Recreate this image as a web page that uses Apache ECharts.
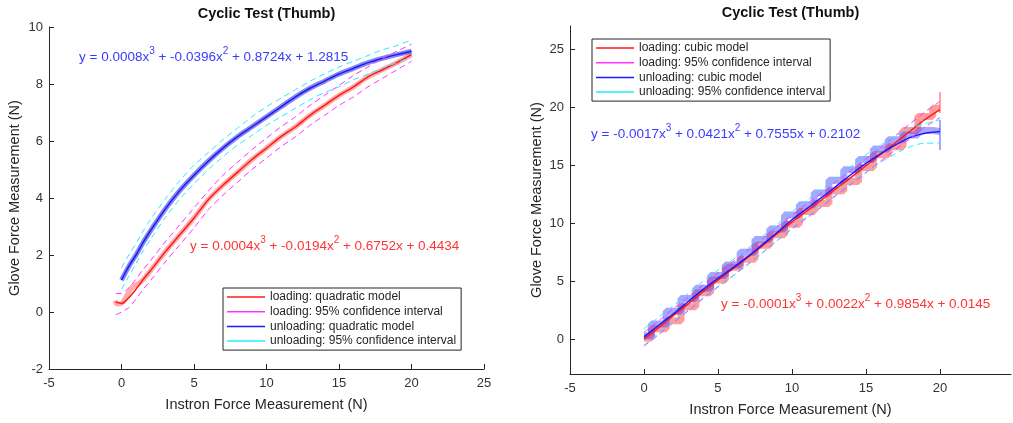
<!DOCTYPE html>
<html>
<head>
<meta charset="utf-8">
<script src="https://cdn.jsdelivr.net/npm/echarts@6/dist/echarts.min.js"></script>
<style>html,body{margin:0;padding:0;background:#fff}#c{width:1013px;height:423px}</style>
</head>
<body>
<div id="c"></div>
<script>
// ---------- Left chart (quadratic model) ----------
const loadX   = [-0.4, 0, 0.5, 1, 1.5, 2, 3, 4, 5, 6, 7, 8, 9, 10, 11, 12, 13, 14, 15, 16, 17, 18, 19, 20];
const loadFit = [0.35, 0.3, 0.5, 0.8, 1.15, 1.45, 2.1, 2.7, 3.3, 3.95, 4.45, 4.9, 5.35, 5.75, 6.15, 6.5, 6.9, 7.25, 7.6, 7.9, 8.25, 8.5, 8.75, 9.03];
const loadUp  = [0.65, 0.65, 0.85, 1.15, 1.5, 1.8, 2.45, 3.05, 3.65, 4.25, 4.8, 5.25, 5.7, 6.1, 6.5, 6.85, 7.25, 7.6, 7.95, 8.3, 8.6, 8.9, 9.15, 9.4];
const loadLo  = [-0.1, 0.0, 0.15, 0.45, 0.8, 1.1, 1.75, 2.35, 2.95, 3.6, 4.1, 4.55, 5.0, 5.4, 5.8, 6.15, 6.55, 6.9, 7.25, 7.55, 7.9, 8.2, 8.5, 8.8];
const loadRawX = [-0.45, -0.3, 0, 0.4, 0.7, 1.0, 1.3, 1.6, 2, 3, 4, 5, 6, 7, 8, 9, 10, 11, 12, 13, 14, 15, 16, 17, 18, 19, 20];
const loadRawY = [0.4, 0.28, 0.3, 0.6, 0.85, 0.95, 1.05, 1.2, 1.45, 2.1, 2.7, 3.3, 3.95, 4.45, 4.9, 5.35, 5.75, 6.15, 6.5, 6.9, 7.25, 7.6, 7.9, 8.25, 8.5, 8.75, 9.03];

const unloadX   = [0, 0.5, 1, 1.5, 2, 3, 4, 5, 6, 7, 8, 9, 10, 11, 12, 13, 14, 15, 16, 17, 18, 19, 20];
const unloadFit = [1.12, 1.6, 2.0, 2.45, 2.85, 3.6, 4.25, 4.8, 5.3, 5.75, 6.15, 6.5, 6.85, 7.2, 7.55, 7.85, 8.1, 8.35, 8.55, 8.75, 8.9, 9.03, 9.15];
const unloadUp  = [1.55, 2.0, 2.4, 2.85, 3.25, 3.95, 4.6, 5.15, 5.6, 6.05, 6.45, 6.85, 7.2, 7.5, 7.8, 8.1, 8.35, 8.6, 8.8, 9.0, 9.2, 9.35, 9.55];
const unloadLo  = [0.8, 1.25, 1.7, 2.15, 2.55, 3.3, 3.95, 4.5, 5.0, 5.45, 5.85, 6.2, 6.55, 6.85, 7.15, 7.45, 7.7, 7.9, 8.15, 8.35, 8.55, 8.75, 8.95];

// ---------- Right chart (cubic model) ----------
const rX          = [0, 1, 2, 3, 4, 5, 6, 7, 8, 9, 10, 11, 12, 13, 14, 15, 16, 17, 18, 19, 20];
const rLoadFit    = [0.0, 1.0, 2.05, 3.05, 4.1, 5.1, 6.05, 7.05, 8.05, 9.1, 10.1, 11.05, 12.0, 13.0, 13.95, 14.95, 15.95, 16.95, 17.95, 18.95, 19.8];
const rLoadUp     = [0.6, 1.6, 2.65, 3.65, 4.7, 5.7, 6.65, 7.65, 8.65, 9.7, 10.7, 11.65, 12.6, 13.6, 14.55, 15.55, 16.55, 17.55, 18.6, 19.6, 20.5];
const rLoadLo     = [-0.6, 0.4, 1.45, 2.45, 3.5, 4.5, 5.45, 6.45, 7.45, 8.5, 9.5, 10.45, 11.4, 12.4, 13.35, 14.35, 15.35, 16.35, 17.3, 18.3, 19.1];
const rLoadRaw    = [0.1, 0.9, 1.6, 2.8, 4.0, 5.1, 6.2, 6.9, 8.1, 9.0, 9.9, 11.0, 11.7, 12.8, 13.6, 14.8, 15.9, 16.6, 18.0, 19.2, 19.9];
const rUnloadFit  = [0.2, 1.2, 2.2, 3.25, 4.3, 5.25, 6.15, 7.1, 8.15, 9.2, 10.3, 11.25, 12.2, 13.2, 14.2, 15.15, 16.0, 16.75, 17.4, 17.75, 17.9];
const rUnloadUp   = [0.9, 1.9, 2.9, 3.95, 5.0, 5.95, 6.85, 7.8, 8.85, 9.9, 11.0, 11.95, 12.9, 13.9, 14.9, 15.9, 16.75, 17.5, 18.2, 18.6, 18.9];
const rUnloadLo   = [-0.5, 0.5, 1.5, 2.55, 3.6, 4.55, 5.45, 6.4, 7.45, 8.5, 9.6, 10.55, 11.5, 12.5, 13.5, 14.4, 15.25, 16.0, 16.6, 16.9, 16.9];
const rUnloadRaw  = [0.3, 1.3, 2.4, 3.5, 4.4, 5.5, 6.4, 7.5, 8.6, 9.5, 10.7, 11.6, 12.6, 13.7, 14.6, 15.5, 16.4, 17.2, 17.6, 18.0, 17.9];
const spikeX      = [20, 20];
const spikeLoad   = [19.5, 21.3];
const spikeUnload = [16.3, 18.9];

// ---------- Tick labels / texts ----------
const leftXTicks  = [-5, 0, 5, 10, 15, 20, 25];
const leftYTicks  = [-2, 0, 2, 4, 6, 8, 10];
const rightXTicks = [-5, 0, 5, 10, 15, 20];
const rightYTicks = [0, 5, 10, 15, 20, 25];
const titleText = 'Cyclic Test (Thumb)';
const xName = 'Instron Force Measurement (N)';
const yName = 'Glove Force Measurement (N)';
const leftNames  = ['loading: quadratic model', 'loading: 95% confidence interval', 'unloading: quadratic model', 'unloading: 95% confidence interval'];
const rightNames = ['loading: cubic model', 'loading: 95% confidence interval', 'unloading: cubic model', 'unloading: 95% confidence interval'];
const eqLeftBlue  = ['y = 0.0008x', '3', ' + -0.0396x', '2', ' + 0.8724x + 1.2815'];
const eqLeftRed   = ['y = 0.0004x', '3', ' + -0.0194x', '2', ' + 0.6752x + 0.4434'];
const eqRightBlue = ['y = -0.0017x', '3', ' + 0.0421x', '2', ' + 0.7555x + 0.2102'];
const eqRightRed  = ['y = -0.0001x', '3', ' + 0.0022x', '2', ' + 0.9854x + 0.0145'];

const FONT = 'Liberation Sans, Arial, Helvetica, sans-serif';
const AX = '#262626';
const RED = '#ff1a1a', MAG = '#ff33ff', BLUE = '#1a1aff', CYAN = '#22eeff';
const LEGEND_ICON = 'path://M0,0H38V1.5H0Z';

function pairs(xs, ys) { return xs.map((x, i) => [x, ys[i]]); }

function line(name, xs, ys, idx, color, width, dashed, extra) {
  return Object.assign({
    type: 'line', name: name, xAxisIndex: idx, yAxisIndex: idx,
    data: pairs(xs, ys), symbol: 'none', showSymbol: false, smooth: 0.3, silent: true, animation: false,
    lineStyle: { color: color, width: width, type: dashed ? [6, 4] : 'solid' },
    itemStyle: { color: color }
  }, extra || {});
}

function axisBase() {
  return {
    axisLine: { show: true, onZero: false, lineStyle: { color: AX, width: 1 } },
    axisTick: { show: true, inside: true, length: 5, lineStyle: { color: AX } },
    splitLine: { show: false },
    axisLabel: { color: '#333', fontSize: 13, fontFamily: FONT },
    nameTextStyle: { color: AX, fontSize: 14.5, fontFamily: FONT },
    nameLocation: 'middle'
  };
}

function eqText(parts, x, y, color) {
  return {
    type: 'text', x: x, y: y, silent: true,
    style: {
      text: '{n|' + parts[0] + '}{s|' + parts[1] + '}{n|' + parts[2] + '}{s|' + parts[3] + '}{n|' + parts[4] + '}',
      fill: color, verticalAlign: 'middle', align: 'left',
      rich: {
        n: { fontSize: 13.5, fontFamily: FONT, fill: color, lineHeight: 22, verticalAlign: 'middle' },
        s: { fontSize: 10, fontFamily: FONT, fill: color, lineHeight: 22, verticalAlign: 'top' }
      }
    }
  };
}

function legendOf(names, left, top) {
  return {
    data: names.map(n => ({ name: n, icon: LEGEND_ICON })),
    orient: 'vertical', left: left, top: top,
    backgroundColor: '#fff', borderColor: AX, borderWidth: 1, borderRadius: 0,
    padding: [3, 5, 3, 4], itemGap: 2.7, itemWidth: 38, itemHeight: 14,
    symbolKeepAspect: true,
    selectedMode: false,
    textStyle: { color: AX, fontSize: 12, fontFamily: FONT }
  };
}

const chart = echarts.init(document.getElementById('c'), null, { renderer: 'canvas' });

const xAxes = [
  Object.assign(axisBase(), { type: 'value', gridIndex: 0, min: -5, max: 25, interval: 5, name: xName, nameGap: 28 }),
  Object.assign(axisBase(), { type: 'value', gridIndex: 1, min: -5, max: 24.8, interval: 5, name: xName, nameGap: 28 })
];
xAxes[0].axisLabel.margin = 8;
xAxes[0].axisLabel.customValues = leftXTicks;
xAxes[0].axisTick.customValues = leftXTicks;
xAxes[1].axisLabel = Object.assign(xAxes[1].axisLabel, { margin: 8, customValues: rightXTicks });
xAxes[1].axisTick = Object.assign(xAxes[1].axisTick, { customValues: rightXTicks });

const yAxes = [
  Object.assign(axisBase(), { type: 'value', gridIndex: 0, min: -2, max: 10, interval: 2, name: yName, nameGap: 27 }),
  Object.assign(axisBase(), { type: 'value', gridIndex: 1, min: -3, max: 27, interval: 5, name: yName, nameGap: 26 })
];
yAxes[0].axisLabel.margin = 6;
yAxes[0].axisLabel.customValues = leftYTicks;
yAxes[0].axisTick.customValues = leftYTicks;
yAxes[1].axisLabel = Object.assign(yAxes[1].axisLabel, { margin: 6, customValues: rightYTicks });
yAxes[1].axisTick = Object.assign(yAxes[1].axisTick, { customValues: rightYTicks });

const series = [
  // left raw bands
  line('', loadRawX, loadRawY, 0, 'rgba(255,70,70,0.45)', 5, false, { z: 1 }),
  line('', unloadX, unloadFit, 0, 'rgba(40,40,220,0.55)', 5, false, { z: 1 }),
  // left fits and intervals
  line(leftNames[0], loadX, loadFit, 0, RED, 1.5, false, { z: 3 }),
  line(leftNames[1], loadX, loadUp, 0, MAG, 1, true, { z: 4 }),
  line(leftNames[1], loadX, loadLo, 0, MAG, 1, true, { z: 4 }),
  line(leftNames[2], unloadX, unloadFit, 0, BLUE, 1.5, false, { z: 3 }),
  line(leftNames[3], unloadX, unloadUp, 0, CYAN, 1, true, { z: 4 }),
  line(leftNames[3], unloadX, unloadLo, 0, CYAN, 1, true, { z: 4 }),
  // right raw staircases
  line('', rX, rLoadRaw, 1, 'rgba(255,60,60,0.5)', 7, false, { smooth: false, step: 'middle', z: 1 }),
  line('', rX, rUnloadRaw, 1, 'rgba(60,60,255,0.45)', 7, false, { smooth: false, step: 'middle', z: 1 }),
  line('', spikeX, spikeLoad, 1, 'rgba(255,60,60,0.6)', 1.5, false, { smooth: false, z: 1 }),
  line('', spikeX, spikeUnload, 1, 'rgba(60,60,255,0.6)', 1.5, false, { smooth: false, z: 1 }),
  // right fits and intervals
  line(rightNames[0], rX, rLoadFit, 1, RED, 1.5, false, { z: 3 }),
  line(rightNames[1], rX, rLoadUp, 1, MAG, 1, true, { z: 4 }),
  line(rightNames[1], rX, rLoadLo, 1, MAG, 1, true, { z: 4 }),
  line(rightNames[2], rX, rUnloadFit, 1, BLUE, 1.5, false, { z: 3 }),
  line(rightNames[3], rX, rUnloadUp, 1, CYAN, 1, true, { z: 4 }),
  line(rightNames[3], rX, rUnloadLo, 1, CYAN, 1, true, { z: 4 })
];

chart.setOption({
  animation: false,
  backgroundColor: '#fff',
  grid: [
    { left: 49, top: 27, width: 435, height: 342, containLabel: false },
    { left: 570, top: 26, width: 441, height: 348, containLabel: false }
  ],
  xAxis: xAxes,
  yAxis: yAxes,
  legend: [legendOf(leftNames, 223, 288), legendOf(rightNames, 592, 39)],
  series: series,
  graphic: [
    { type: 'text', x: 266.5, y: 14, silent: true,
      style: { text: titleText, fill: '#111', font: 'bold 14.5px ' + FONT, align: 'center', verticalAlign: 'middle' } },
    { type: 'text', x: 790.5, y: 12.5, silent: true,
      style: { text: titleText, fill: '#111', font: 'bold 14.5px ' + FONT, align: 'center', verticalAlign: 'middle' } },
    eqText(eqLeftBlue, 79, 57, '#3a3aff'),
    eqText(eqLeftRed, 190, 246, '#ff3333'),
    eqText(eqRightBlue, 591, 134, '#3a3aff'),
    eqText(eqRightRed, 721, 304, '#ff3333')
  ]
});
</script>
</body>
</html>
